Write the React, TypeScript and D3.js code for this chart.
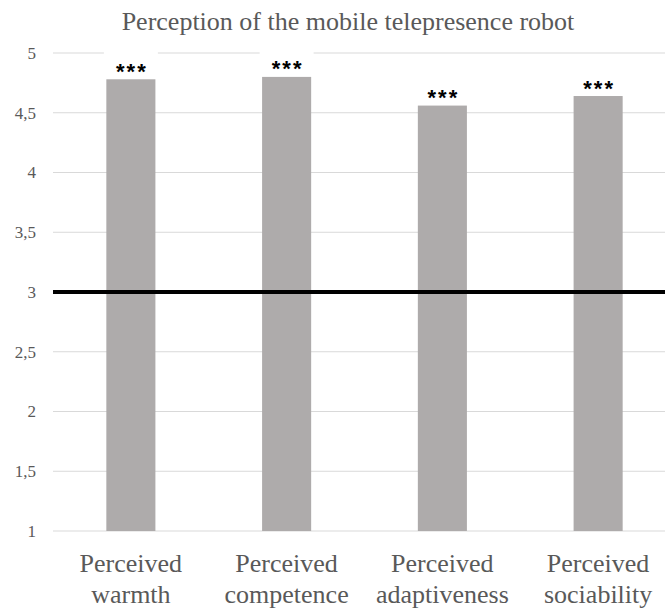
import React, { useEffect, useRef } from 'react';
import * as d3 from 'd3';

const CATEGORIES = ['Perceived warmth', 'Perceived competence', 'Perceived adaptiveness', 'Perceived sociability'];
const VALUES = [4.78, 4.8, 4.56, 4.64];
const SIG_LABELS = ['***', '***', '***', '***'];
const Y_TICKS = [1, 1.5, 2, 2.5, 3, 3.5, 4, 4.5, 5];
const REFERENCE_VALUE = 3;
const TITLE = 'Perception of the mobile telepresence robot';

const App: React.FC = () => {
  const svgRef = useRef<SVGSVGElement>(null);

  useEffect(() => {
    if (!svgRef.current) return;
    d3.select(svgRef.current).selectAll('*').remove();

    const width = 665;
    const height = 609;
    const plot = { left: 53, right: 676, top: 53, bottom: 531 };
    const font = '"Liberation Serif", "Times New Roman", serif';

    const svg = d3.select(svgRef.current)
      .attr('width', width)
      .attr('height', height);

    svg.append('rect').attr('width', width).attr('height', height).attr('fill', '#fff');

    const x = d3.scaleBand<string>().domain(CATEGORIES).range([plot.left, plot.right]).padding(0);
    const barW = x.bandwidth() * 0.315;
    const y = d3.scaleLinear().domain([1, 5]).range([plot.bottom, plot.top]);

    // Title
    svg.append('text')
      .attr('x', 348)
      .attr('y', 30)
      .attr('text-anchor', 'middle')
      .attr('font-family', font)
      .attr('font-size', 26)
      .attr('fill', '#595959')
      .text(TITLE);

    // Gridlines
    svg.selectAll('.grid')
      .data(Y_TICKS)
      .enter()
      .append('line')
      .attr('x1', plot.left)
      .attr('x2', width)
      .attr('y1', d => y(d))
      .attr('y2', d => y(d))
      .attr('stroke', '#d9d9d9')
      .attr('stroke-width', 1);

    // Tick labels
    svg.selectAll('.tick-label')
      .data(Y_TICKS)
      .enter()
      .append('text')
      .attr('x', 36)
      .attr('y', d => y(d))
      .attr('dy', '0.35em')
      .attr('text-anchor', 'end')
      .attr('font-family', font)
      .attr('font-size', 17)
      .attr('fill', '#595959')
      .text(d => String(d).replace('.', ','));

    // Bars
    svg.selectAll('.bar')
      .data(VALUES)
      .enter()
      .append('rect')
      .attr('x', (d, i) => (x(CATEGORIES[i]) as number) + x.bandwidth() / 2 - barW / 2)
      .attr('y', d => y(d))
      .attr('width', barW)
      .attr('height', d => y(1) - y(d))
      .attr('fill', '#aeabab');

    // Significance labels with white backgrounds
    VALUES.forEach((v, i) => {
      const cx = (x(CATEGORIES[i]) as number) + x.bandwidth() / 2;
      svg.append('rect')
        .attr('x', cx - 27)
        .attr('y', y(v) - 30)
        .attr('width', 54)
        .attr('height', 27)
        .attr('fill', '#fff');
      svg.append('text')
        .attr('x', cx + 1)
        .attr('y', y(v) - 0.5)
        .attr('text-anchor', 'middle')
        .attr('font-family', '"Liberation Sans", Arial, sans-serif')
        .attr('font-weight', 'bold')
        .attr('font-size', 22)
        .attr('letter-spacing', 2)
        .attr('fill', '#000')
        .text(SIG_LABELS[i]);
    });

    // Reference line
    svg.append('line')
      .attr('x1', plot.left)
      .attr('x2', width)
      .attr('y1', y(REFERENCE_VALUE))
      .attr('y2', y(REFERENCE_VALUE))
      .attr('stroke', '#000')
      .attr('stroke-width', 4);

    // Category labels (two lines)
    CATEGORIES.forEach(c => {
      const cx = (x(c) as number) + x.bandwidth() / 2;
      const words = c.split(' ');
      const t = svg.append('text')
        .attr('text-anchor', 'middle')
        .attr('font-family', font)
        .attr('font-size', 26)
        .attr('fill', '#595959');
      words.forEach((w, j) => {
        t.append('tspan').attr('x', cx).attr('y', 572 + j * 31).text(w);
      });
    });
  }, []);

  return (
    <div style={{ position: 'absolute', left: 0, top: 0 }}>
      <svg ref={svgRef}></svg>
    </div>
  );
};

export default App;
